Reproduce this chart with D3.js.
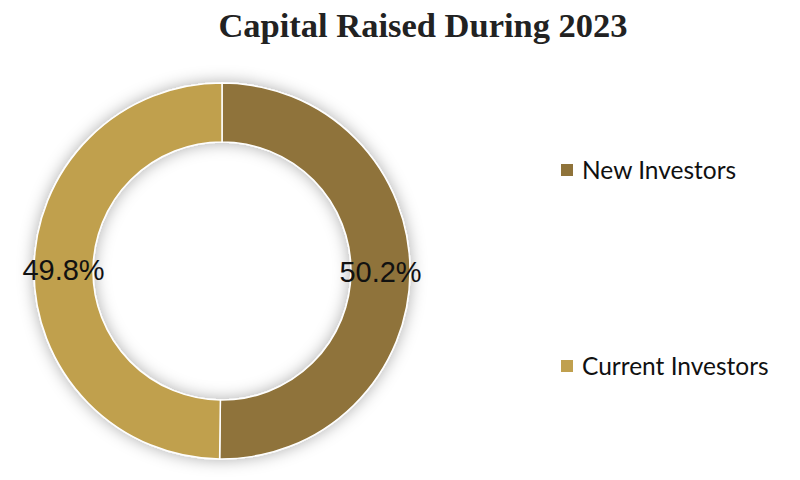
<!DOCTYPE html>
<html>
<head>
<script src="https://d3js.org/d3.v7.min.js"></script>
<style>
  body { margin: 0; background: #fff; }
</style>
</head>
<body>
<svg id="chart"></svg>
<script>
  var categories = ["New Investors", "Current Investors"]
  var values = [50.2, 49.8]
  var labels = ["50.2%", "49.8%"]
  var colors = ["#8f733a", "#c0a04e"]

  var W = 800, H = 480
  var cx = 222, cy = 271, outerR = 188, innerR = 129

  var svg = d3.select("#chart").attr("width", W).attr("height", H)

  var defs = svg.append("defs")
  var f = defs.append("filter").attr("id", "shadow").attr("x", "-20%").attr("y", "-20%").attr("width", "140%").attr("height", "140%")
  f.append("feDropShadow").attr("dx", 0).attr("dy", 0).attr("stdDeviation", 8).attr("flood-color", "#000").attr("flood-opacity", 0.32)

  svg.append("text")
    .attr("x", 423).attr("y", 37)
    .attr("text-anchor", "middle")
    .style("font-family", "'Liberation Serif', 'DejaVu Serif', serif")
    .style("font-weight", "bold")
    .style("font-size", "34.5px")
    .attr("fill", "#222")
    .text("Capital Raised During 2023")

  var data = categories.map((c, i) => ({ name: c, v: values[i], label: labels[i], color: colors[i] }))
  var pie = d3.pie().sort(null).value(d => d.v)
  var arc = d3.arc().innerRadius(innerR).outerRadius(outerR)
  var labelArc = d3.arc().innerRadius((innerR + outerR) / 2).outerRadius((innerR + outerR) / 2)

  var g = svg.append("g").attr("transform", `translate(${cx}, ${cy})`)
  var arcs = pie(data)

  g.append("g").attr("filter", "url(#shadow)")
    .selectAll("path").data(arcs).enter().append("path")
    .attr("d", arc)
    .attr("fill", d => d.data.color)
    .attr("stroke", "#fff")
    .attr("stroke-width", 1.5)

  g.selectAll("text.lbl").data(arcs).enter().append("text")
    .attr("class", "lbl")
    .attr("transform", d => `translate(${labelArc.centroid(d)})`)
    .attr("text-anchor", "middle")
    .attr("dy", "0.36em")
    .style("font-family", "'Liberation Sans', Arial, sans-serif")
    .style("font-size", "29px")
    .attr("fill", "#111")
    .text(d => d.data.label)

  var legendY = d3.scalePoint().domain(categories).range([170, 366])
  var leg = svg.selectAll("g.leg").data(data).enter().append("g")
    .attr("class", "leg")
    .attr("transform", d => `translate(561, ${legendY(d.name)})`)
  leg.append("rect").attr("x", 0).attr("y", -6).attr("width", 12).attr("height", 12).attr("fill", d => d.color)
  leg.append("text").attr("x", 21).attr("y", 0).attr("dy", "0.36em")
    .style("font-family", "Lato, 'Noto Sans', sans-serif")
    .style("font-size", "24.5px")
    .attr("fill", "#111")
    .text(d => d.name)
</script>
</body>
</html>
